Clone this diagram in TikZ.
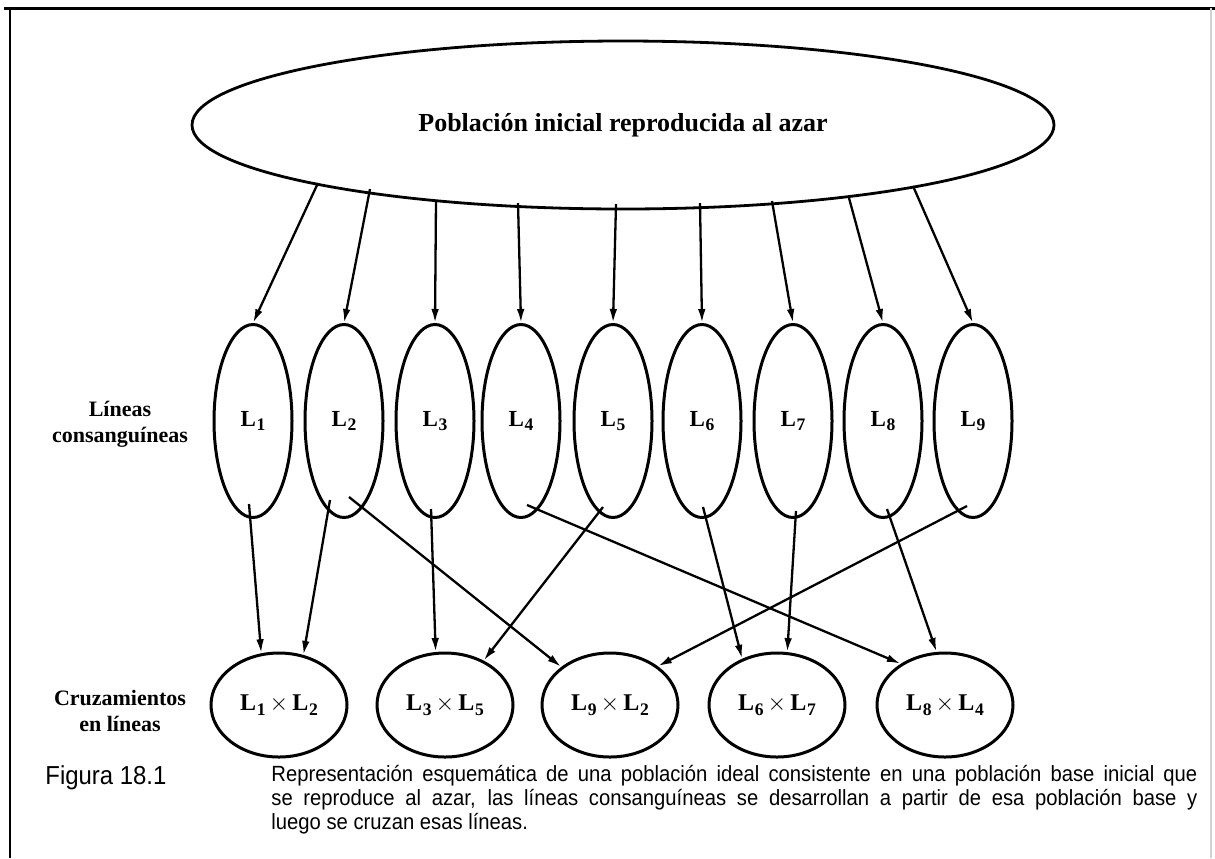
\documentclass[tikz,border=0pt]{standalone}
\usepackage{fontspec}
\setmainfont{Liberation Serif}
\newfontfamily\capfont[FakeStretch=0.92]{Liberation Sans}
\usetikzlibrary{arrows.meta, calc, shapes.geometric}
\newcommand{\Lsub}[1]{L\kern0.4pt\raisebox{-2.4pt}{\fontsize{8.8}{9}\selectfont#1}}
\newcommand{\Lcruz}[2]{\Lsub{#1}\,$\times$\,\Lsub{#2}}

\begin{document}
\begin{tikzpicture}[x=0.5pt, y=-0.5pt, >={Latex[length=7pt,width=3.8pt]},
  every node/.style={inner sep=0pt},
  linea/.style={ellipse, draw, line width=1.5pt, minimum width=39pt, minimum height=96.5pt, font=\fontsize{11.5}{13}\selectfont\bfseries},
  cruce/.style={ellipse, draw, line width=1.5pt, minimum width=68pt, minimum height=52pt, font=\fontsize{12}{13}\selectfont\bfseries},
  rotulo/.style={align=center, font=\fontsize{11}{13}\selectfont\bfseries},
  flecha/.style={->, line width=1.15pt}]

\useasboundingbox (0,0) rectangle (1215,858);

% marco
\draw[line width=1.5pt] (4,8) -- (1215,8);
\draw[line width=1.3pt] (10,8) -- (10,723);
\draw[line width=0.7pt] (10,723) -- (10,858);
\draw[gray!35, line width=0.6pt] (1211,8) -- (1211,858);

% poblacion base
\node[ellipse, draw, line width=1.4pt, minimum width=431pt, minimum height=84pt,
  font=\fontsize{13}{15}\selectfont\bfseries] (pob) at (623,125) {Población inicial reproducida al azar};

% lineas consanguineas
\foreach \i/\x in {1/253,2/344,3/435,4/521,5/613,6/702,7/793,8/883,9/973}
  \node[linea] (L\i) at (\x,421) {\Lsub{\i}};
\node[rotulo] (rotL) at (120,424) {Líneas\\consanguíneas};

% cruzamientos
\node[cruce] (C12) at (279,705) {\Lcruz{1}{2}};
\node[cruce] (C35) at (445,705) {\Lcruz{3}{5}};
\node[cruce] (C92) at (610,705) {\Lcruz{9}{2}};
\node[cruce] (C67) at (777,705) {\Lcruz{6}{7}};
\node[cruce] (C84) at (945,705) {\Lcruz{8}{4}};
\node[rotulo] (rotC) at (120,711) {Cruzamientos\\en líneas};

% flechas desde la poblacion
\foreach \i/\x/\y in {1/318/183,2/370/189,3/436/200,4/518/203,5/616/204,6/700/203,7/772/201,8/849/198,9/913/186} {
  \coordinate (p\i) at (\x,\y);
  \draw[flecha] (p\i) -- (L\i.north);
}

% flechas hacia los cruzamientos
\draw[flecha] ($(L1.south)+(-4,-15)$) -- (C12.109);
\draw[flecha] ($(L2.south)+(-14,-19)$) -- (C12.64);
\draw[flecha] ($(L2.south)+(5,-22)$) -- (C92.142);
\draw[flecha] ($(L3.south)+(-4,-10)$) -- (C35.100);
\draw[flecha] ($(L4.south)+(6,-14)$) -- (C84.137);
\draw[flecha] ($(L5.south)+(-10,-12)$) -- (C35.49);
\draw[flecha] ($(L6.south)+(1,-12)$) -- (C67.127);
\draw[flecha] ($(L7.south)+(3,-8)$) -- (C67.79);
\draw[flecha] ($(L8.south)+(4,-10)$) -- (C84.99);
\draw[flecha] ($(L9.south)+(-6,-13)$) -- (C92.39);

% pie de figura
\node[anchor=base west, font=\capfont\fontsize{13}{15}\selectfont] (fig) at (45,784) {Figura 18.1};
\node[anchor=north west, text width=463pt, align=justify, font=\capfont\fontsize{11}{12}\selectfont] (pie) at (271,765)
  {Representación esquemática de una población ideal consistente en una población base inicial que\linebreak
   se reproduce al azar, las líneas consanguíneas se desarrollan a partir de esa población base y\linebreak
   luego se cruzan esas líneas.};

\end{tikzpicture}
\end{document}
